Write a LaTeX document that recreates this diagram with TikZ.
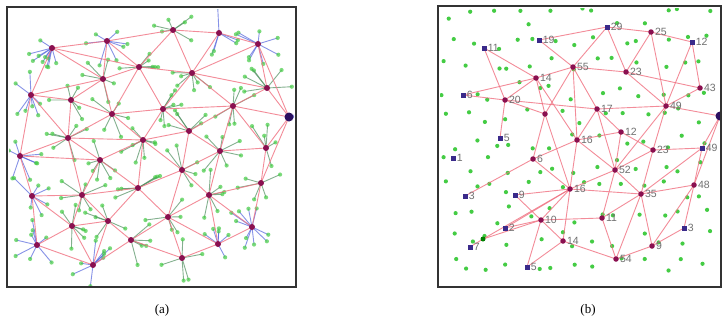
\documentclass[tikz,border=0pt]{standalone}
\usepackage{fontspec}
\setmainfont{Liberation Serif}
\setsansfont{Liberation Sans}
\definecolor{hubc}{HTML}{8A1050}
\definecolor{bluec}{HTML}{3A2A8A}
\definecolor{navyc}{HTML}{2A1060}
\definecolor{leafc}{HTML}{44CC44}
\definecolor{redl}{HTML}{F07080}
\definecolor{lnb}{HTML}{5566DD}
\definecolor{lng}{HTML}{4F8F5F}
\definecolor{labc}{HTML}{707070}
\definecolor{framec}{HTML}{333333}
\begin{document}
\begin{tikzpicture}[x=1pt,y=-1pt,
  hub/.style={circle,fill=hubc,inner sep=0pt,minimum size=6pt},
  bighub/.style={circle,fill=navyc,inner sep=0pt,minimum size=9pt},
  leaf/.style={circle,fill=leafc,inner sep=0pt,minimum size=4.2pt},
  redline/.style={draw=redl,line width=0.9pt,opacity=0.8},
  bred/.style={circle,fill=hubc,inner sep=0pt,minimum size=5.5pt},
  bblue/.style={rectangle,fill=bluec,inner sep=0pt,minimum size=5pt},
  lab/.style={font=\sffamily\fontsize{10.5}{10.5}\selectfont,text=labc,inner sep=0.5pt},
  framebox/.style={draw=framec,line width=1.1pt},
  captext/.style={font=\fontsize{13}{15}\selectfont}]
\useasboundingbox (0,0) rectangle (722,330);
\fill[white] (0,0) rectangle (722,330);
\pgfmathsetseed{4242}

% ---------------- panel (a) ----------------
\foreach \i/\x/\y in {1/52/48,2/107/41,3/173/30,4/219/33,5/258/44,6/139/67,7/103/79,
  8/192/73,9/267/88,10/31/95,11/71/100,12/163/109,13/233/106,15/112/114,16/68/138,
  17/143/140,18/189/131,19/20/156,20/100/160,21/220/151,22/266/148,23/182/170,
  24/32/196,25/82/195,26/138/188,27/209/195,28/261/183,29/108/221,30/72/226,
  31/168/217,32/252/227,33/37/245,34/131/240,35/218/244,36/93/265,37/182/258}
  \coordinate (h\i) at (\x,\y);
\coordinate (h14) at (289,117);

\begin{scope}
\clip (9,9) rectangle (294,285);
\foreach \i/\n/\c in {1/10/lnb,2/7/lnb,3/6/lng,4/5/lnb,5/8/lnb,6/6/lng,7/5/lng,8/6/lng,
  9/6/lng,10/7/lnb,11/5/lng,12/6/lng,13/6/lng,14/3/lnb,15/5/lng,16/6/lng,17/7/lng,
  18/5/lng,19/7/lnb,20/6/lng,21/6/lng,22/5/lng,23/5/lng,24/6/lnb,25/6/lng,26/6/lng,
  27/6/lng,28/5/lng,29/5/lng,30/6/lng,31/5/lng,32/10/lnb,33/8/lnb,34/5/lng,35/6/lnb,
  36/8/lnb,37/5/lng}{
  \foreach \k in {1,...,\n}{
    \pgfmathsetmacro\ang{rnd*360}
    \pgfmathsetmacro\dd{11+rnd*15}
    \draw[\c,line width=0.9pt,opacity=0.7] (h\i) -- ++(\ang:\dd) node[leaf] (l\i-\k) {};
  }
}
\end{scope}

\foreach \a/\b in {1/2,2/3,3/4,4/5,1/10,1/7,2/6,2/7,3/6,3/8,4/8,5/8,5/9,5/14,6/7,6/8,
  6/12,6/15,7/10,7/11,7/15,8/12,8/13,8/9,9/13,9/14,10/11,10/16,10/19,11/15,11/16,
  12/15,12/17,12/18,12/13,13/18,13/14,13/21,13/22,14/22,14/28,15/17,15/16,16/19,
  16/20,16/17,17/18,17/20,17/26,17/23,18/21,18/23,21/22,21/23,21/27,22/28,19/24,
  20/25,20/26,16/25,24/25,24/33,24/30,25/29,25/30,25/26,26/29,26/31,26/23,23/27,
  23/31,27/28,27/31,27/35,27/32,28/32,29/30,29/34,29/36,30/33,30/36,31/34,31/37,
  31/35,33/36,34/36,34/37,35/37,35/32,19/20,1/6}
  \draw[redline] (h\a) -- (h\b);

\foreach \i in {1,...,13,15,16,...,37}
  \node[hub] (hn\i) at (h\i) {};
\node[bighub] (hn14) at (h14) {};

\draw[framebox] (7,7) rectangle (296,287);
\node[captext] (capa) at (162,310) {(a)};

% ---------------- panel (b) ----------------
\begin{scope}
\clip (440,8) rectangle (719,285);
\foreach \r in {0,...,10}{
  \foreach \c in {0,...,12}{
    \pgfmathsetmacro\px{449+\c*21.3+(rnd-0.5)*16}
    \pgfmathsetmacro\py{17+\r*24.7+(rnd-0.5)*18}
    \fill[leafc] (\px,\py) circle (2.1);
  }
}
\end{scope}

\foreach \nm/\x/\y in {
  b29/607/27, b25/651/32, b12a/692/42, b19/539/40,
  b11/484/48, b55/573/67, b14/536/78, b23/626/72,
  b43/700/88, b6/463/95, b20/505/100, b17/597/109,
  b49/666/106, b12b/621/132, b5/500/138, b16a/577/140,
  b1/453/158, b6b/533/159, b23b/653/150, b49b/702/148,
  b52/615/170, b3/465/196, b9/515/195, b16/570/189,
  b35/641/194, b48/694/185, b10/541/220, b11b/602/218,
  b2/505/228, b3b/684/228, b7/470/247, b14b/563/241,
  b9b/652/246, b5b/527/267, b54/616/259}
  \coordinate (\nm) at (\x,\y);
\coordinate (bx) at (545,114);
\coordinate (bR) at (720,116);
\coordinate (bg) at (483,239);

\foreach \a/\b in {b19/b29,b29/b25,b25/b12a,b29/b55,b29/b23,b25/b23,b25/b49,b12a/b43,
  b12a/b49,b19/b55,b11/b20,b11/b14,b6/b20,b6/b14,b14/b55,b14/b20,b14/bx,b14/b16a,
  b55/b23,b55/b17,b55/b16a,b55/bx,b20/b5,b20/bx,b20/b17,b17/b49,b17/b12b,b17/b16a,
  b17/b52,b23/b43,b23/b49,b49/bR,b49/b43,b49/b23b,b49/b52,bR/b49b,bR/b48,b12b/b16a,
  b12b/b23b,b12b/b52,b16a/b6b,b16a/b52,b16a/b16,bx/b6b,bx/b16,b23b/b49b,b23b/b35,
  b23b/b52,b49b/b48,b49b/b35,b6b/b3,b6b/b16,b16/b9,b16/b35,b16/b10,b16/b14b,b16/b52,
  b52/b35,b52/b11b,b35/b48,b35/b11b,b35/b54,b35/b9b,b48/b3b,b48/b9b,b3b/b9b,b9b/b54,
  b10/b9,b10/b2,b10/b11b,b10/b5b,b10/b14b,b10/bg,bg/b7,bg/b16,b14b/b5b,b14b/b54,
  b11b/b54,b2/b16}
  \draw[redline] (\a) -- (\b);

\foreach \nm/\t/\s in {
  b29/29/bblue, b25/25/bred, b12a/12/bblue, b19/19/bblue, b11/11/bblue, b55/55/bred,
  b14/14/bred, b23/23/bred, b43/43/bred, b6/6/bblue, b20/20/bred, b17/17/bred,
  b49/49/bred, b12b/12/bred, b5/5/bblue, b16a/16/bred, b1/1/bblue, b6b/6/bred,
  b23b/23/bred, b49b/49/bblue, b52/52/bred, b3/3/bblue, b9/9/bblue, b16/16/bred,
  b35/35/bred, b48/48/bred, b10/10/bred, b11b/11/bred, b2/2/bblue, b3b/3/bblue,
  b7/7/bblue, b14b/14/bred, b9b/9/bred, b5b/5/bblue, b54/54/bred}
  \node[\s,label={[lab,label distance=0.5pt]right:\t}] (n\nm) at (\nm) {};
\node[bred] (nbx) at (bx) {};
\node[bighub] (nbR) at (bR) {};
\node[circle,fill=green!50!black,inner sep=0pt,minimum size=5pt] (nbg) at (bg) {};

\draw[framebox] (438,6) rectangle (721,287);
\node[captext] (capb) at (588,310) {(b)};
\end{tikzpicture}
\end{document}
